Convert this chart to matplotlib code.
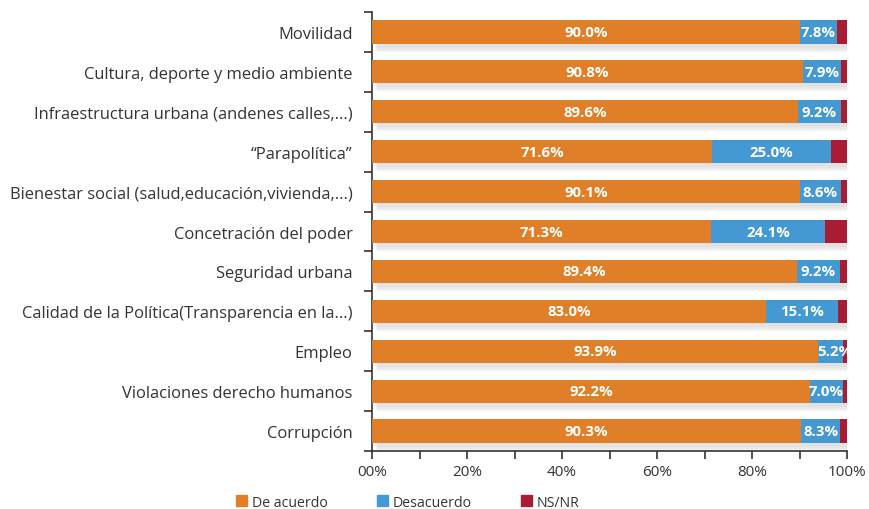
import matplotlib
matplotlib.use("Agg")
import matplotlib.pyplot as plt
from matplotlib.patches import Patch
from matplotlib.ticker import MultipleLocator

categories = ["Movilidad", "Cultura, deporte y medio ambiente",
              "Infraestructura urbana (andenes calles,...)", "\u201cParapolítica\u201d",
              "Bienestar social (salud,educación,vivienda,...)", "Concetración del poder",
              "Seguridad urbana", "Calidad de la Política(Transparencia en la...)",
              "Empleo", "Violaciones derecho humanos", "Corrupción"]
acuerdo = [90.0, 90.8, 89.6, 71.6, 90.1, 71.3, 89.4, 83.0, 93.9, 92.2, 90.3]
desacuerdo = [7.8, 7.9, 9.2, 25.0, 8.6, 24.1, 9.2, 15.1, 5.2, 7.0, 8.3]
nsnr = [2.2, 1.3, 1.2, 3.4, 1.3, 4.6, 1.4, 1.9, 0.9, 0.8, 1.4]
series_names = ["De acuerdo", "Desacuerdo", "NS/NR"]
xtick_labels = ["00%", "20%", "40%", "60%", "80%", "100%"]

colors = ["#E07F27", "#4499D3", "#A91C33"]
plt.rcParams['font.family'] = ['Open Sans', 'DejaVu Sans']

fig = plt.figure(figsize=(8.7, 5.1), dpi=100)
ax = fig.add_axes([0.4276, 0.1137, 0.5460, 0.8608])

n = len(categories)
ypos = [n - 1 - i for i in range(n)]
h = 0.58

# shadows
for k, a in enumerate([0.04, 0.06, 0.08]):
    off = 0.10 + 0.05 * k
    ax.barh([y - off for y in ypos], [100] * n, height=h, left=0.6 + 0.2 * k,
            color="#555555", alpha=a, zorder=1, linewidth=0)

ax.barh(ypos, acuerdo, height=h, color=colors[0], zorder=3, linewidth=0)
lefts2 = acuerdo
ax.barh(ypos, desacuerdo, height=h, left=lefts2, color=colors[1], zorder=3, linewidth=0)
lefts3 = [a + d for a, d in zip(acuerdo, desacuerdo)]
ax.barh(ypos, nsnr, height=h, left=lefts3, color=colors[2], zorder=3, linewidth=0)

for y, a, d in zip(ypos, acuerdo, desacuerdo):
    ax.text(a / 2, y, f"{a:.1f}%", ha="center", va="center", color="white",
            fontsize=10.8, fontweight="bold", zorder=5)
    ax.text(a + d / 2 + (1.0 if d < 6 else 0), y, f"{d:.1f}%", ha="center", va="center",
            color="white", fontsize=10.8, fontweight="bold", zorder=5)

ax.set_xlim(0, 100)
ax.set_ylim(-0.5, n - 0.5)
ax.set_xticks([0, 20, 40, 60, 80, 100])
ax.set_xticklabels(xtick_labels, fontsize=11, color="#333333")
ax.xaxis.set_minor_locator(MultipleLocator(10))
ax.tick_params(axis="x", which="both", direction="out", length=6, width=1.2, color="#333333", pad=3)

ax.set_yticks(ypos)
ax.set_yticklabels(categories, fontsize=11.9, color="#333333")
ax.set_yticks([y + 0.5 for y in range(-1, n)], minor=True)
ax.tick_params(axis="y", which="major", length=0, pad=14)
ax.tick_params(axis="y", which="minor", direction="out", length=6, width=1.2, color="#333333")

for s in ["top", "right"]:
    ax.spines[s].set_visible(False)
for s in ["left", "bottom"]:
    ax.spines[s].set_color("#333333")
    ax.spines[s].set_linewidth(1.2)
ax.set_facecolor("none")

handles = [Patch(color=c, label=l) for c, l in zip(colors, series_names)]
fig.legend(handles=handles, loc="center left", bbox_to_anchor=(0.271, 0.0137), ncol=3,
           frameon=False, fontsize=10.2, handlelength=0.78, handleheight=0.78,
           handletextpad=0.35, columnspacing=3.45, borderpad=0, borderaxespad=0,
           labelcolor="#333333")

fig.savefig("out.png", dpi=100)
